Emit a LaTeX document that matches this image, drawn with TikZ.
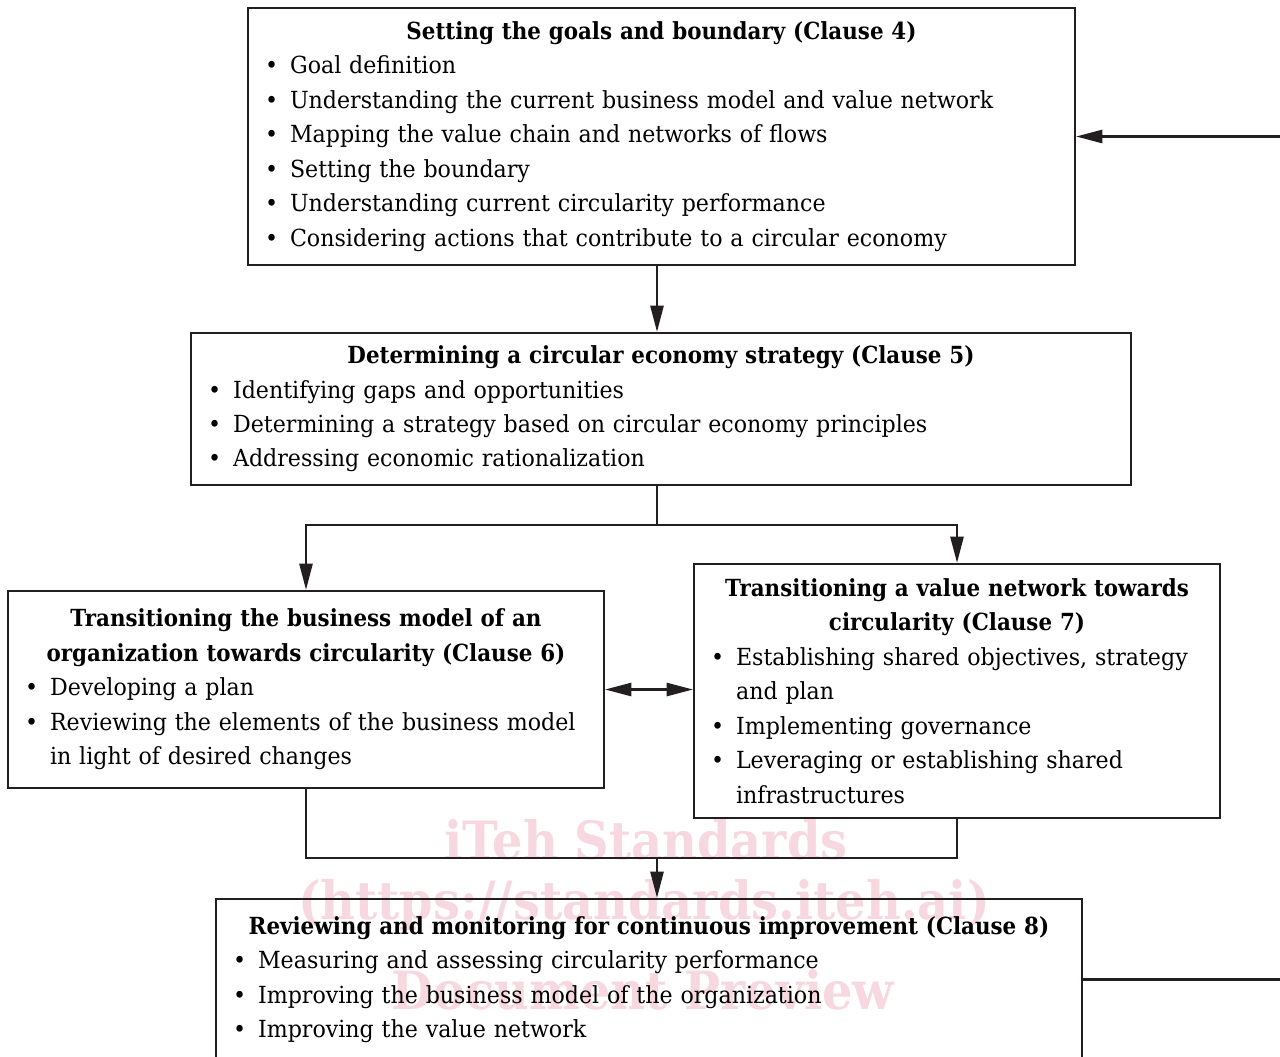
\documentclass[tikz,border=0pt]{standalone}
\usepackage{fontspec}
\setmainfont{DejaVu Serif}[FakeStretch=0.94, BoldFeatures={FakeStretch=0.91}]
\usetikzlibrary{arrows.meta}

\newdimen\pxu
\pxu=0.02cm
\newcommand{\boxtitle}[1]{\parindent=0pt\centering\textbf{#1}\par\raggedright}
\newcommand{\itm}{\par\hangindent=26\pxu\hangafter=1\noindent\makebox[26\pxu][l]{\hspace{1\pxu}\textbullet}}
\newcommand{\brk}{\hfil\break}
\definecolor{ink}{RGB}{35,31,32}
\definecolor{wmark}{RGB}{247,216,224}

\begin{document}
\begin{tikzpicture}[x=0.02cm, y=-0.02cm, line width=1.3pt, draw=ink,
    box/.style={draw=ink, rectangle, inner xsep=0.32cm, inner ysep=0pt, anchor=center,
      font=\fontsize{13.4}{19.6}\selectfont},
    arr/.style={-{Triangle[length=15pt,width=7.5pt]}},
    wm/.style={text=wmark, font=\fontsize{30}{31}\selectfont\bfseries}]

	\clip (0,0) rectangle (1280,1056);

	% watermark
	\node[wm] (wm1) at (646,840) {iTeh Standards};
	\node[wm] (wm2) at (644,905) {(https://standards.iteh.ai)};
	\node[wm] (wm3) at (643,990) {Document Preview};

	\node[box, minimum width=16.54cm, minimum height=5.14cm, text width=15.9cm] (goals) at (661.5,136.5) {%
		\boxtitle{Setting the goals and boundary (Clause 4)}
		\itm Goal definition
		\itm Understanding the current business model and value network
		\itm Mapping the value chain and networks of flows
		\itm Setting the boundary
		\itm Understanding current circularity performance
		\itm Considering actions that contribute to a circular economy\par};

	\node[box, minimum width=18.8cm, minimum height=3.04cm, text width=18.16cm] (strategy) at (661,409) {%
		\boxtitle{Determining a circular economy strategy (Clause 5)}
		\itm Identifying gaps and opportunities
		\itm Determining a strategy based on circular economy principles
		\itm Addressing economic rationalization\par};

	\node[box, minimum width=11.92cm, minimum height=3.94cm, text width=11.28cm] (bizmodel) at (306,689.5) {%
		\boxtitle{Transitioning the business model of an\\organization towards circularity (Clause 6)}
		\itm Developing a plan
		\itm Reviewing the elements of the business model\brk in light of desired changes\par};

	\node[box, minimum width=10.52cm, minimum height=5.08cm, text width=9.88cm] (valnet) at (957,691) {%
		\boxtitle{Transitioning a value network towards\\circularity (Clause 7)}
		\itm Establishing shared objectives, strategy\brk and plan
		\itm Implementing governance
		\itm Leveraging or establishing shared\brk infrastructures\par};

	\node[box, minimum width=17.32cm, minimum height=3.22cm, text width=16.68cm] (review) at (649,979.5) {%
		\boxtitle{Reviewing and monitoring for continuous improvement (Clause 8)}
		\itm Measuring and assessing circularity performance
		\itm Improving the business model of the organization
		\itm Improving the value network\par};

	\coordinate (split) at (657,525);
	\coordinate (merge) at (657,858);

	\draw[arr] (goals.south -| split) -- (strategy.north -| split);
	\draw (strategy.south -| split) -- (split);
	\draw[arr] (split) -| (bizmodel.north);
	\draw[arr] (split) -| (valnet.north);
	\draw[{Triangle[length=15pt,width=7.5pt]}-{Triangle[length=15pt,width=7.5pt]}] (bizmodel.east) -- (bizmodel.east -| valnet.west);
	\draw (bizmodel.south) |- (merge) -| (valnet.south);
	\draw[arr] (merge) -- (review.north -| merge);
	\draw[arr] (review.east) -- ++(240,0) |- (goals.east);
\end{tikzpicture}
\end{document}
